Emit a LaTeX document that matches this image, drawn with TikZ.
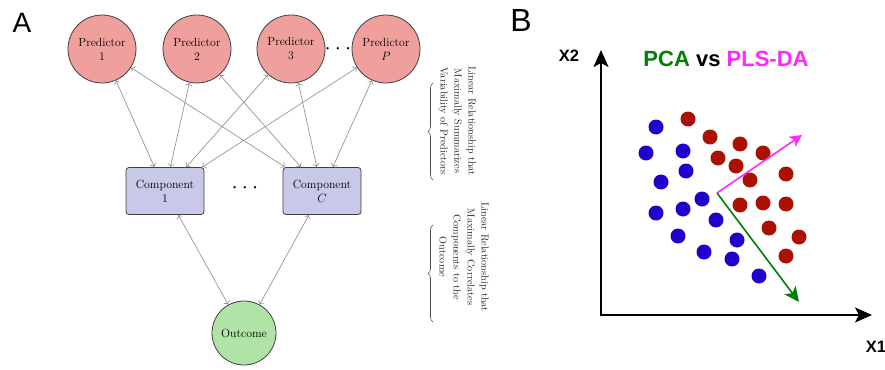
\documentclass[tikz,border=0pt]{standalone}
\usepackage{fontspec}
\newfontfamily\arial{Liberation Sans}
\usetikzlibrary{arrows.meta, positioning, decorations.pathreplacing}
\definecolor{predfill}{RGB}{239,160,157}
\definecolor{compfill}{RGB}{200,200,232}
\definecolor{outfill}{RGB}{176,228,166}
\definecolor{linkgray}{RGB}{150,150,150}
\definecolor{bluedot}{RGB}{34,0,204}
\definecolor{reddot}{RGB}{170,17,0}
\definecolor{plsmag}{RGB}{255,40,255}
\definecolor{pcagreen}{RGB}{0,128,0}
\newcommand{\threedots}{\textbullet\hspace{3.6pt}\textbullet\hspace{3.6pt}\textbullet}

\begin{document}
\begin{tikzpicture}[x=1pt, y=-1pt,
  pred/.style={circle, draw=black!75, line width=0.8pt, fill=predfill, minimum size=68pt, inner sep=0pt, align=center, font=\fontsize{11.8}{14}\selectfont},
  comp/.style={rectangle, rounded corners=3pt, draw=black!75, line width=0.8pt, fill=compfill, minimum width=78pt, minimum height=47pt, inner sep=0pt, align=center, font=\fontsize{11.8}{14}\selectfont},
  outc/.style={circle, draw=black!75, line width=0.8pt, fill=outfill, minimum size=64pt, inner sep=0pt, font=\fontsize{11.8}{14}\selectfont},
  link/.style={{To[length=3.5pt,width=7pt]}-{To[length=3.5pt,width=7pt]}, linkgray, line width=0.7pt},
  note/.style={rotate=-90, align=center, text=black!85, font=\fontsize{10.2}{14}\selectfont},
  brc/.style={decorate, decoration={brace, amplitude=5pt}, draw=black!70, line width=0.6pt},
  axis/.style={{Stealth[length=17pt,width=15pt,inset=4pt]}-{Stealth[length=17pt,width=15pt,inset=4pt]}, line width=2pt},
  dotsA/.style={font=\fontsize{8}{8}\selectfont, inner sep=0pt}]
\useasboundingbox (0,0) rectangle (885,369);
% panel A
\node[font=\arial\fontsize{28}{30}\selectfont] (labA) at (22,23) {A};
\node[pred] (p1) at (102,49) {Predictor\\1};
\node[pred] (p2) at (197,49) {Predictor\\2};
\node[pred] (p3) at (291,49) {Predictor\\3};
\node[pred] (pP) at (386,49) {Predictor\\$P$};
\node[dotsA] (pdots) at (338,49) {\threedots};
\node[comp] (c1) at (165,191) {Component\\1};
\node[comp] (cC) at (322,191) {Component\\$C$};
\node[dotsA] (cdots) at (245,188) {\threedots};
\node[outc] (out) at (244,333) {Outcome};
\foreach \p in {p1,p2,p3,pP} {
  \draw[link] (\p) -- (c1);
  \draw[link] (\p) -- (cC);
}
\draw[link] (c1) -- (out);
\draw[link] (cC) -- (out);
\draw[brc] (433,180) -- (433,83);
\node[note] (note1) at (457,121) {Linear Relationship that\\Maximally Summarizes\\Variability of Predictors};
\draw[brc] (433,322) -- (433,225);
\node[note] (note2) at (464,257) {Linear Relationship that\\Maximally Correlates\\Components to the\\Outcome};
% panel B
\node[font=\arial\fontsize{32}{34}\selectfont] (labB) at (521,20) {B};
\coordinate (orig) at (601,315);
\coordinate (ytip) at (601,50);
\coordinate (xtip) at (872,315);
\draw[axis] (ytip) -- (orig) -- (xtip);
\node[font=\arial\bfseries\fontsize{16.5}{18}\selectfont] (lx2) at (569,56) {X2};
\node[font=\arial\bfseries\fontsize{16.5}{18}\selectfont] (lx1) at (876,347) {X1};
\node[font=\arial\bfseries\fontsize{22}{24}\selectfont] (title) at (726,59) {\textcolor{pcagreen}{PCA} vs \textcolor{plsmag}{PLS-DA}};
\foreach \x/\y in {656/127, 646/153, 683/151, 686/171, 661/182, 702/199, 656/213,
  683/209, 716/220, 678/236, 737/240, 704/252, 732/259, 759/276}
  \fill[bluedot] (\x,\y) circle[radius=7.5];
\foreach \x/\y in {688/119, 710/137, 740/144, 763/153, 718/158, 736/166, 750/180,
  786/174, 740/205, 763/203, 786/204, 769/228, 799/237, 786/256}
  \fill[reddot] (\x,\y) circle[radius=7.5];
\coordinate (vo) at (717,193);
\coordinate (vpls) at (802,135);
\coordinate (vpca) at (799,302);
\draw[plsmag, line width=1.6pt, -{Stealth[length=12pt,width=12pt,inset=3pt]}] (vo) -- (vpls);
\draw[pcagreen, line width=1.6pt, -{Stealth[length=15pt,width=14pt,inset=4pt]}] (vo) -- (vpca);
\end{tikzpicture}
\end{document}
